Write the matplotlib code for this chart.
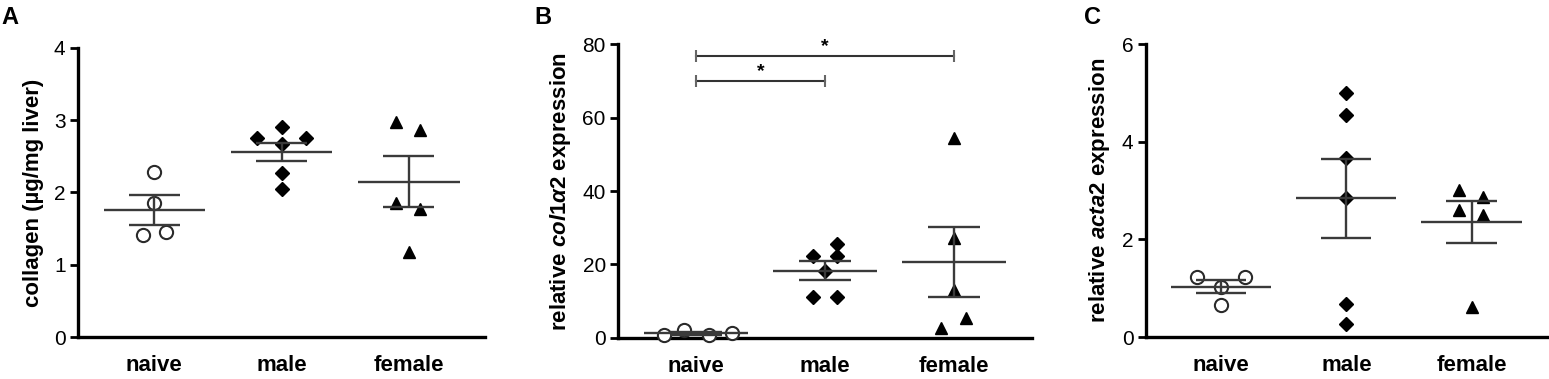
import numpy as np
import matplotlib.pyplot as plt

plt.rcParams['font.family'] = ['Liberation Sans', 'DejaVu Sans']
plt.rcParams['mathtext.fontset'] = 'custom'
plt.rcParams['mathtext.it'] = 'Liberation Sans:italic:bold'
plt.rcParams['mathtext.rm'] = 'Liberation Sans:bold'

groups = ['naive', 'male', 'female']

# panel A: collagen (ug/mg liver)
a_naive = [2.29, 1.86, 1.41, 1.46]
a_male = [2.76, 2.90, 2.75, 2.67, 2.27, 2.05]
a_female = [2.98, 2.87, 1.86, 1.77, 1.18]
a_mean = [1.76, 2.56, 2.15]
a_sem = [0.21, 0.13, 0.35]

# panel B: relative col1a2 expression
b_naive = [0.6, 2.2, 0.7, 1.3]
b_male = [22.4, 25.5, 22.4, 18.3, 11.2, 11.2]
b_female = [54.4, 27.1, 13.0, 2.7, 5.3]
b_mean = [1.2, 18.3, 20.7]
b_sem = [0.4, 2.6, 9.5]

# panel C: relative acta2 expression
c_naive = [1.22, 1.22, 1.03, 0.66]
c_male = [5.01, 4.56, 3.66, 2.84, 0.68, 0.27]
c_female = [3.01, 2.88, 2.60, 2.50, 0.62]
c_mean = [1.03, 2.84, 2.36]
c_sem = [0.13, 0.81, 0.43]

# horizontal jitter of the dots, as drawn in the figure
a_jit = [[0, 0, -0.09, 0.09], [-0.19, 0, 0.19, 0, 0, 0], [-0.1, 0.09, -0.1, 0.09, 0]]
b_jit = [[-0.25, -0.09, 0.1, 0.28], [-0.09, 0.09, 0.09, 0, -0.09, 0.09], [0, 0, 0, -0.1, 0.09]]
c_jit = [[-0.19, 0.19, 0, 0], [0, 0, 0, 0, 0, 0], [-0.1, 0.09, -0.1, 0.09, 0]]

fig = plt.figure(figsize=(15.49, 3.79), dpi=100)
axA = fig.add_axes([0.0504, 0.1108, 0.2627, 0.7626])
axB = fig.add_axes([0.3992, 0.1090, 0.2668, 0.7740])
axC = fig.add_axes([0.7398, 0.1108, 0.2587, 0.7722])

styles = [dict(marker='o', mfc='white', mec='#2a2a2a', mew=1.5, ms=9.5),
          dict(marker='D', mfc='black', mec='black', ms=7.5),
          dict(marker='^', mfc='black', mec='black', ms=9)]
line_c = '#3a3a3a'


def panel(ax, data, jit, mean, sem, ymax, yticks, ylabel, letter, lx):
    for i in range(3):
        ax.plot(i + np.array(jit[i]), data[i], ls='none', clip_on=False, zorder=3, **styles[i])
        ax.hlines(mean[i], i - 0.4, i + 0.4, color=line_c, lw=1.7, zorder=4)
        ax.hlines([mean[i] - sem[i], mean[i] + sem[i]], i - 0.2, i + 0.2, color=line_c, lw=1.7, zorder=4)
        ax.vlines(i, mean[i] - sem[i], mean[i] + sem[i], color=line_c, lw=1.7, zorder=4)
    ax.set_xlim(-0.6, 2.6)
    ax.set_ylim(0, ymax)
    ax.set_yticks(yticks)
    ax.set_xticks([0, 1, 2])
    ax.set_xticklabels(groups, fontsize=16, fontweight='bold')
    ax.tick_params(axis='x', length=0, pad=13)
    ax.tick_params(axis='y', length=6, width=2, labelsize=15, pad=3)
    for s in ['top', 'right']:
        ax.spines[s].set_visible(False)
    for s in ['left', 'bottom']:
        ax.spines[s].set_linewidth(2.4)
    ax.set_ylabel(ylabel, fontsize=16, fontweight='bold', labelpad=7)
    fig.text(lx, 0.985, letter, fontsize=17, fontweight='bold', va='top', ha='left')


panel(axA, [a_naive, a_male, a_female], a_jit, a_mean, a_sem, 4, [0, 1, 2, 3, 4],
      'collagen (µg/mg liver)', 'A', 0.001)
panel(axB, [b_naive, b_male, b_female], b_jit, b_mean, b_sem, 80, [0, 20, 40, 60, 80],
      r'relative $\mathit{col1}\mathit{\alpha}$2 expression', 'B', 0.345)
panel(axC, [c_naive, c_male, c_female], c_jit, c_mean, c_sem, 6, [0, 2, 4, 6],
      r'relative $\mathit{acta2}$ expression', 'C', 0.7)

# significance brackets in panel B
brackets = [(0, 1, 70.0), (0, 2, 76.8)]
for x0, x1, yb in brackets:
    axB.plot([x0, x1], [yb, yb], color='#333333', lw=1.5, clip_on=False)
    axB.vlines([x0, x1], yb - 1.6, yb + 1.6, color='#666666', lw=1.5, clip_on=False)
    axB.text((x0 + x1) / 2, yb + 0.3, '*', ha='center', va='bottom', fontsize=14, fontweight='bold')

fig.savefig('out.png', dpi=100)
